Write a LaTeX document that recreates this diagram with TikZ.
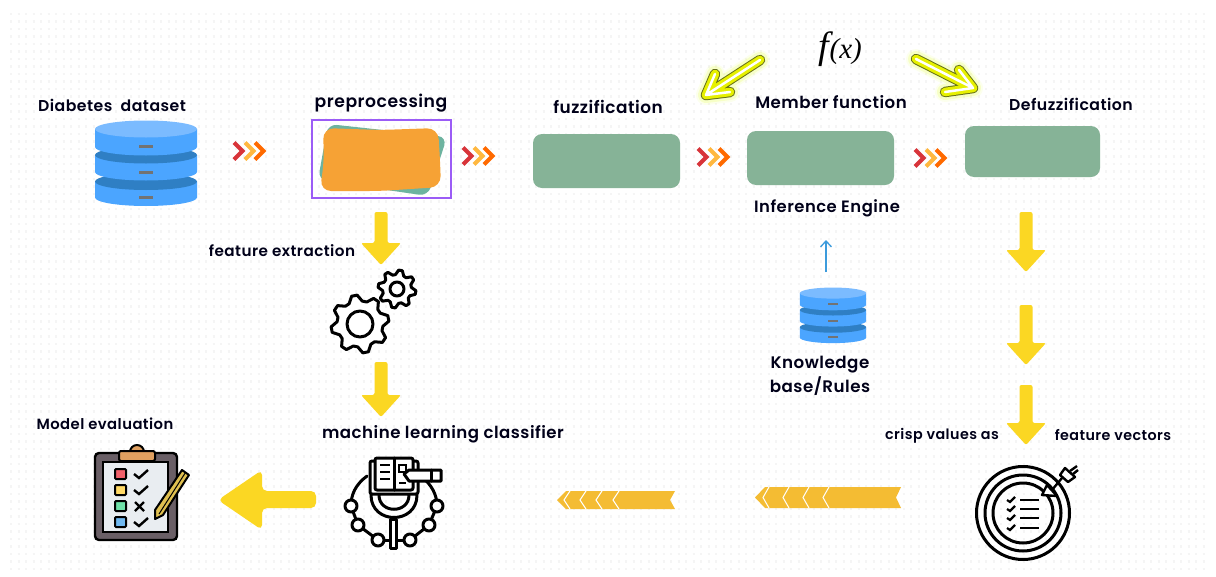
\documentclass[tikz,border=0pt]{standalone}
\usepackage{fontspec}
\usetikzlibrary{arrows.meta}
\setmainfont{Poppins}[BoldFont=Poppins SemiBold,LetterSpace=3]
\newfontfamily\fxfont{Liberation Serif}
\definecolor{boxgreen}{HTML}{86B397}
\definecolor{dbbody}{HTML}{4BA5FF}
\definecolor{dbtop}{HTML}{7BBBFF}
\definecolor{dbdark}{HTML}{2F7FC4}
\definecolor{goldarrow}{HTML}{FBD723}
\definecolor{ribbon}{HTML}{F4BC33}
\definecolor{neonglow}{HTML}{EEFF70}
\definecolor{neonedge}{HTML}{66701A}
\definecolor{neonfill}{HTML}{E6F000}
\definecolor{blobteal}{HTML}{6DB3A0}
\definecolor{bloborange}{HTML}{F6A235}
\definecolor{framepurple}{HTML}{9B5CF6}
\definecolor{thinblue}{HTML}{3C9BDC}
\definecolor{chevred}{HTML}{D8343A}
\definecolor{chevyel}{HTML}{FFB840}
\definecolor{chevora}{HTML}{FF6A00}
\definecolor{boardgrey}{HTML}{6A5F66}
\definecolor{boardpaper}{HTML}{E9EDF1}
\definecolor{boardclip}{HTML}{E0A060}
\definecolor{boardpen}{HTML}{E0C050}
\definecolor{sqred}{HTML}{F0606A}
\definecolor{sqyel}{HTML}{FFD966}
\definecolor{sqgrn}{HTML}{6EE0A8}
\definecolor{sqblu}{HTML}{70B8F0}
\tikzset{
 lbl/.style={font=\fontsize{#1}{24}\selectfont\bfseries,text=black!90!blue,inner sep=0pt,align=center},
 greenbox/.style={fill=boxgreen,rounded corners=9pt},
 icon/.style={line width=3pt,line join=round,line cap=round},
}
% three small chevrons
\newcommand{\chevs}[2]{
\foreach \dx/\col in {0/chevred,11/chevyel,21/chevora}{
 \draw[\col,line width=4pt] (#1+\dx+2,#2-8.5) -- (#1+\dx+10.5,#2) -- (#1+\dx+2,#2+8.5);
}}
% solid yellow arrow pointing down
\newcommand{\yarrow}[3]{
\fill[goldarrow,rounded corners=2pt] (#1-6.5,#2) -- (#1+6.5,#2) -- (#1+6.5,#3-22) -- (#1+20,#3-22)
 -- (#1,#3) -- (#1-20,#3-22) -- (#1-6.5,#3-22) -- cycle;
}
% glowing arrow: tail, tip, barb, barb
\newcommand{\neonarrow}[4]{
\foreach \wid/\col/\op in {20/neonglow/.12,16/neonglow/.3,10.5/neonedge/1,8.5/neonfill/1,2.5/white/1}{
 \draw[line width=\wid pt,line cap=round,line join=round,draw=\col,opacity=\op] #1 -- #2 #3 -- #2 -- #4;
}}
% database, drawn round its own middle
\newcommand{\dbstack}[3]{
\begin{scope}[shift={(#1,#2)},scale=#3]
\foreach \ytop/\ybot/\col in {18/34/dbdark,-8.5/8.5/dbdark,-34.5/-16.5/dbtop}{
 \fill[dbbody] (-51,\ytop) -- (-51,\ybot) arc[start angle=180,end angle=360,x radius=51,y radius=-8.5] -- (51,\ytop) -- cycle;
 \fill[\col] (0,\ytop) ellipse[x radius=51,y radius=8.5];
}
\foreach \ym in {-17.5,8.5,33.5}{
 \fill[black!55] (-7,\ym-1.5) rectangle (7,\ym+1.5);
}
\end{scope}
}
% ribbon running to the left: left tip, body start, right end, top, bottom, cut positions
\newcommand{\ribbonbar}[6]{
\fill[ribbon] (#1,{(#4+#5)/2}) -- (#2,#4) -- (#3,#4) -- (#3-5,{(#4+#5)/2}) -- (#3,#5) -- (#2,#5) -- cycle;
\foreach \cx in {#6}{
 \draw[white,line width=1pt] (\cx+6,#4) -- (\cx,{(#4+#5)/2}) -- (\cx+6,#5);
}}
% toothed wheel
\newcommand{\gearwheel}[5]{
\draw[icon,fill=white] plot[domain=5.625:365.625,samples=33] ({#1+(mod(\x,45)<22.5?#3:#4)*cos(\x+#5)},{#2+(mod(\x,45)<22.5?#3:#4)*sin(\x+#5)}) -- cycle;
}
\begin{document}
\begin{tikzpicture}[x=1pt,y=-1pt]
\useasboundingbox (0,0) rectangle (1216,576);
\fill[white] (0,0) rectangle (1216,576);
% dotted paper
\foreach \yy in {14,21.5,...,570}{
 \draw[black!4,line width=2.4pt,dash pattern=on 2.4pt off 5.1pt] (10,\yy) -- (1208,\yy);
}

% top row
\dbstack{146}{163.5}{1}
\node[lbl=15.7] (dataset) at (112,105) {Diabetes\ \ dataset};
\chevs{232}{151}
\node[lbl=17.2] (prep) at (381,103) {preprocessing};
\fill[blobteal,rounded corners=9pt] (328,124) -- (447,137) -- (428,196) -- (318,180) -- cycle;
\fill[bloborange,rounded corners=11pt] (323,128) -- (380,130) -- (438,128) -- (440,160) -- (441,187) -- (380,191) -- (320,191) -- (324,160) -- cycle;
\draw[framepurple,line width=2pt] (312,120) rectangle (451,198);
\chevs{461}{156}
\node[lbl=16.9] (fuzz) at (608,107) {fuzzification};
\fill[greenbox] (533,134) rectangle (680,188);
\chevs{696}{157}
\node[lbl=16.6] (member) at (831,102) {Member function};
\fill[greenbox] (747,131) rectangle (894,185);
\chevs{913}{158}
\node[lbl=15.7] (defuzz) at (1071,104) {Defuzzification};
\fill[greenbox] (965,126) rectangle (1100,177);
\node (fx) at (840,49) {\fxfont\itshape\fontsize{38}{38}\selectfont f\kern1pt\fontsize{29}{29}\selectfont(x)};
\neonarrow{(760,60)}{(706,95)}{(715,74)}{(730,92)}
\neonarrow{(916,59)}{(973,88)}{(959,70)}{(945,92)}

% inference part
\node[lbl=16.4] (infer) at (827,208) {Inference Engine};
\coordinate (kbtop) at (826,272);
\coordinate (kbend) at (826,240);
\draw[-{Straight Barb[length=6pt,width=11pt]},draw=thinblue,line width=1.3pt] (kbtop) -- (kbend);
\dbstack{833}{315.5}{.65}
\node[lbl=16.7] (kb) at (820,376) {Knowledge\\base/Rules};

% left column
\yarrow{381}{212}{265}
\node[lbl=15.2] (feat) at (282,251) {feature extraction};
\gearwheel{360}{324}{23}{29}{0}
\draw[icon] (360,324) circle (13);
\gearwheel{397}{289}{14.5}{19}{22}
\draw[icon] (397,289) circle (7);
\yarrow{381}{362}{417}
\node[lbl=16.6] (clf) at (443,434) {machine learning classifier};

% classifier icon
\draw[icon] (367,476) .. controls (355,485) and (351,495) .. (351,506);
\draw[icon] (421,476) .. controls (432,485) and (437,495) .. (437,506);
\draw[icon] (351,506) -- (358,525) -- (378,540);
\draw[icon] (437,506) -- (429,525) -- (410,540);
\draw[icon] (378,540) -- (410,540);
\foreach \nx/\ny in {351/506,358/525,378/540,410/540,429/525,437/506}{
 \draw[icon,fill=white] (\nx,\ny) circle (6);
}
\draw[icon] (371,495) .. controls (371,525) and (417,525) .. (417,495);
\draw[icon] (379,495) .. controls (379,514) and (409,514) .. (409,495);
\draw[icon,fill=white] (390.5,519) rectangle (396.5,548);
\draw[icon,fill=white,rounded corners=2pt] (370,461) rectangle (418,494);
\draw[icon,fill=white,rounded corners=2pt] (375,458) rectangle (413,490);
\draw[icon] (394,458) -- (394,490);
\foreach \yy in {465,472,479}{
 \draw[line width=2.4pt] (380,\yy) -- (390,\yy);
}
\draw[line width=2.2pt] (399,465) rectangle (406,472);
\draw[line width=2.2pt] (399,483) -- (406,483);
\draw[icon,fill=white] (404,474) -- (409,470) -- (441,470) -- (441,481) -- (409,481) -- cycle;
\draw[icon] (431,470) -- (431,481);

% big left arrow
\fill[goldarrow,rounded corners=5pt] (316,491) -- (262,491) -- (262,470) -- (218,500) -- (262,530) -- (262,508) -- (316,508) -- cycle;

% clipboard
\node[lbl=14.8] (evalu) at (105,424) {Model evaluation};
\draw[line width=2.4pt,fill=boardgrey,rounded corners=4pt] (95,453) rectangle (177,540);
\fill[boardpaper] (103,462) rectangle (168,532);
\draw[line width=1.6pt] (103,462) rectangle (168,532);
\draw[line width=2pt,fill=boardclip] (137,452) circle (7);
\draw[line width=2pt,fill=boardclip,rounded corners=2pt] (119,451) rectangle (155,461);
\foreach \yy/\sqcol in {474/sqred,490/sqyel,506/sqgrn,522/sqblu}{
 \draw[line width=2pt,fill=\sqcol,rounded corners=1pt] (115,\yy-5) rectangle (126,\yy+5);
}
\foreach \yy in {474,490,522}{
 \draw[line width=2.4pt] (134,\yy) -- (139,\yy+4) -- (148,\yy-4);
}
\draw[line width=2.4pt] (135,502) -- (144,511) (144,502) -- (135,511);
\draw[line width=2pt,fill=boardpen,line join=round] (182,470) -- (189,475) -- (163,515) -- (155,519) -- (155,510) -- cycle;
\draw[line width=1pt] (185.5,472.5) -- (159,514);

% right column
\yarrow{1026}{212}{272}
\yarrow{1026}{305}{365}
\yarrow{1026}{385}{445}
\node[lbl=14.3] (crisp) at (942,436) {crisp values as};
\node[lbl=14.3] (vecs) at (1113,435) {feature vectors};
\foreach \rr in {46.5,38,30}{
 \draw[line width=3pt] (1023,513) circle (\rr);
}
\draw[icon,fill=white,line width=2.4pt] (1042,495) -- (1047,485) -- (1057,496) -- cycle;
\draw[line width=2.4pt] (1052,490) -- (1062,478);
\draw[icon,line width=2.4pt,fill=white] (1065,468) -- (1075,477) -- (1068,482) -- (1060,475) -- cycle;
\draw[line width=2.4pt] (1070,471) -- (1077,466) (1073,474) -- (1078,470);
\foreach \yy in {500,509,518,528}{
 \draw[line width=2.2pt] (1007,\yy) -- (1010,\yy+2) -- (1015,\yy-3);
 \draw[line width=2.2pt] (1020,\yy) -- (1039,\yy);
}

% bottom ribbons
\ribbonbar{557}{566}{675}{491}{509}{564,580,596,613}
\ribbonbar{755}{765}{901}{487}{508}{763,783,803,823}
\end{tikzpicture}
\end{document}
